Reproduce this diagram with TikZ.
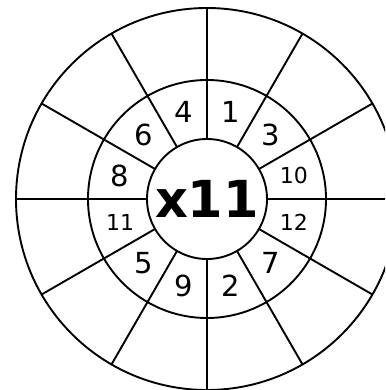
\documentclass[tikz,border=0pt]{standalone}
\usepackage{fontspec}
\setmainfont{DejaVu Sans}
\usetikzlibrary{calc}
\begin{document}
\begin{tikzpicture}[x=1pt,y=-1pt,
  ring/.style={line width=1.9pt},
  big/.style={font=\fontsize{29}{31}\selectfont},
  small/.style={font=\fontsize{22}{24}\selectfont}]
\useasboundingbox (0,0) rectangle (385,390);
\clip (0,0) rectangle (385,390);
\coordinate (c) at (207,199);
\draw[ring] (c) circle[radius=191];
\draw[ring] (c) circle[radius=119];
\draw[ring] (c) circle[radius=60];
\foreach \a in {0,30,...,330}
  \draw[ring] ($(c)+(\a:60)$) -- ($(c)+(\a:191)$);
\node[font=\bfseries\fontsize{51}{53}\selectfont] (m) at (c) {x11};
\foreach \a/\t/\s [count=\i] in {75/1/big,45/3/big,15/10/small,-15/12/small,-45/7/big,-75/2/big,-105/9/big,-135/5/big,-165/11/small,165/8/big,135/6/big,105/4/big}
  \node[\s] (n\i) at ($(c)+(-\a:90)$) {\t};
\end{tikzpicture}
\end{document}
